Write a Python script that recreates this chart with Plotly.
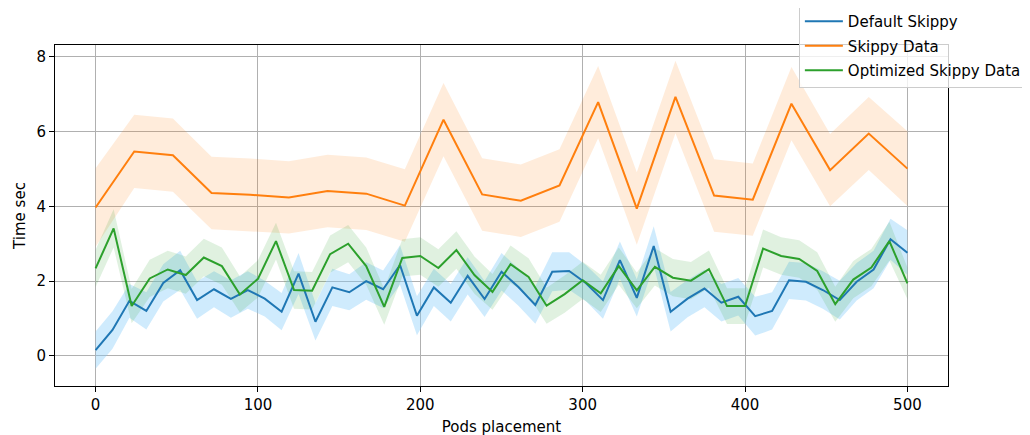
import numpy as np
import plotly.graph_objects as go

# ---- data ----
default_mean = [0.15, 0.69, 1.47, 1.20, 1.95, 2.29, 1.49, 1.78, 1.52, 1.76,
                1.53, 1.18, 2.20, 0.91, 1.83, 1.70, 2.00, 1.78, 2.43, 1.07,
                1.83, 1.42, 2.14, 1.52, 2.25, 1.84, 1.36, 2.25, 2.27, 1.94,
                1.49, 2.56, 1.55, 2.94, 1.18, 1.53, 1.80, 1.42, 1.58, 1.06,
                1.20, 2.02, 1.98, 1.76, 1.49, 1.98, 2.31, 3.12, 2.76]
default_std = [0.50, 0.50, 0.45, 0.50, 0.50, 0.52, 0.50, 0.48, 0.50, 0.50,
               0.48, 0.50, 0.55, 0.50, 0.50, 0.48, 0.50, 0.50, 0.53, 0.52,
               0.50, 0.50, 0.50, 0.48, 0.50, 0.50, 0.50, 0.52, 0.50, 0.48,
               0.50, 0.50, 0.50, 0.53, 0.53, 0.50, 0.50, 0.50, 0.50, 0.52,
               0.50, 0.50, 0.50, 0.50, 0.52, 0.50, 0.50, 0.55, 0.60]

skippy_mean = [3.97, 5.47, 5.37, 4.36, 4.31, 4.24, 4.41, 4.34, 4.02, 6.32, 4.32,
               4.15, 4.56, 6.79, 3.94, 6.93, 4.29, 4.18, 6.75, 4.97, 5.95, 5.01]
skippy_std = [1.05, 0.98, 0.98, 0.97, 0.97, 0.97, 0.97, 0.97, 0.97, 0.98, 0.97,
              0.97, 0.97, 0.97, 0.97, 0.97, 0.97, 0.97, 0.98, 0.97, 0.98, 1.00]

optimized_mean = [2.34, 3.41, 1.33, 2.07, 2.31, 2.16, 2.63, 2.40, 1.64, 2.06,
                  3.07, 1.76, 1.74, 2.72, 3.00, 2.40, 1.31, 2.62, 2.67, 2.35,
                  2.83, 2.16, 1.71, 2.45, 2.11, 1.34, 1.65, 2.02, 1.67, 2.40,
                  1.75, 2.38, 2.09, 2.01, 2.32, 1.33, 1.33, 2.87, 2.67, 2.59,
                  2.27, 1.38, 2.04, 2.36, 3.07, 1.94]
optimized_std = [0.50, 0.51, 0.46, 0.50, 0.50, 0.50, 0.50, 0.50, 0.48, 0.50,
                 0.49, 0.50, 0.50, 0.50, 0.50, 0.50, 0.48, 0.50, 0.50, 0.50,
                 0.50, 0.50, 0.48, 0.50, 0.50, 0.48, 0.50, 0.50, 0.50, 0.50,
                 0.48, 0.50, 0.50, 0.50, 0.50, 0.48, 0.48, 0.51, 0.50, 0.50,
                 0.50, 0.47, 0.50, 0.50, 0.52, 0.42]

x_ticks = [0, 100, 200, 300, 400, 500]
y_ticks = [0, 2, 4, 6, 8]

series = [
    ("Default Skippy", default_mean, default_std, "#1f77b4", "rgba(135,206,250,0.4)"),
    ("Skippy Data", skippy_mean, skippy_std, "#ff7f0e", "rgba(255,127,14,0.15)"),
    ("Optimized Skippy Data", optimized_mean, optimized_std, "#2ca02c", "rgba(44,160,44,0.15)"),
]

FONT = "DejaVu Sans"
FS = 15

fig = go.Figure()
for i, (name, mean, std, col, fcol) in enumerate(series):
    m = np.array(mean)
    s = np.array(std)
    x = np.linspace(0, 500, len(m))
    up = m + s
    lo = m - s
    fig.add_trace(go.Scatter(
        x=np.concatenate([x, x[::-1]]), y=np.concatenate([up, lo[::-1]]),
        fill="toself", fillcolor=fcol, line=dict(width=0), mode="lines",
        showlegend=False, hoverinfo="skip"))
for i, (name, mean, std, col, fcol) in enumerate(series):
    x = np.linspace(0, 500, len(mean))
    fig.add_trace(go.Scatter(
        x=x, y=mean, mode="lines", name=name, legendgroup=f"g{i}",
        line=dict(color=col, width=2)))

axis_common = dict(
    showline=True, linecolor="black", linewidth=1, mirror=True,
    showgrid=True, gridcolor="#b0b0b0", gridwidth=0.8,
    ticks="outside", ticklen=5, tickcolor="black", tickwidth=1,
    zeroline=False,
    tickfont=dict(family=FONT, size=FS, color="black"),
)

# page body has an 8px margin, so margins are shifted to compensate
fig.update_layout(
    width=1030, height=435,
    margin=dict(l=47, r=90, t=37, b=57, autoexpand=False),
    paper_bgcolor="white", plot_bgcolor="white",
    font=dict(family=FONT, size=FS, color="black"),
    xaxis=dict(range=[-25, 525], tickvals=x_ticks,
               title=dict(text="Pods placement", standoff=8,
                          font=dict(family=FONT, size=FS, color="black")),
               **axis_common),
    yaxis=dict(range=[-0.81, 8.32], tickvals=y_ticks,
               title=dict(text="Time sec", standoff=7,
                          font=dict(family=FONT, size=FS, color="black")),
               **axis_common),
    legend=dict(x=0.833, y=1.12, xanchor="left", yanchor="top",
                bgcolor="rgba(255,255,255,0.8)", bordercolor="#cccccc", borderwidth=1,
                font=dict(family=FONT, size=FS, color="black"),
                tracegroupgap=2, itemwidth=38),
)

fig.write_html("out.html")
